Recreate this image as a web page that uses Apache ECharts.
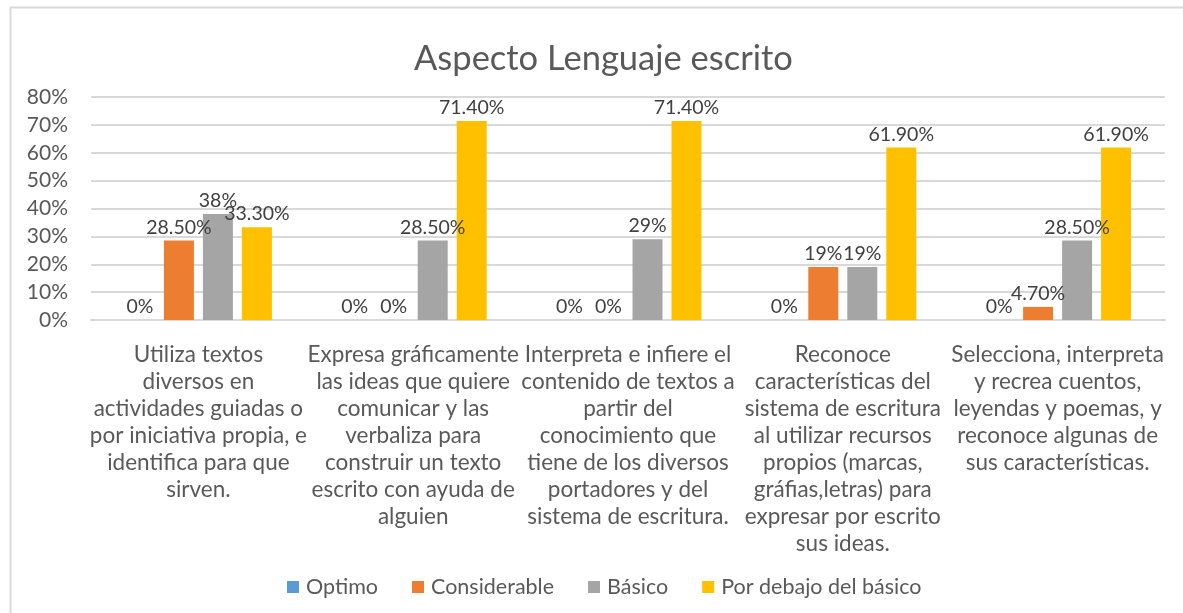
<!DOCTYPE html>
<html>
<head>
<meta charset="utf-8">
<script src="https://cdn.jsdelivr.net/npm/echarts@6/dist/echarts.min.js"></script>
<style>
  html, body { margin: 0; padding: 0; background: #fff; }
  #chart { width: 1183px; height: 613px; }
</style>
</head>
<body>
<div id="chart"></div>
<script>
const categories = [
  'Utiliza textos\ndiversos en\nactividades guiadas o\npor iniciativa propia, e\nidentifica para que\nsirven.',
  'Expresa gráficamente\nlas ideas que quiere\ncomunicar y las\nverbaliza para\nconstruir un texto\nescrito con ayuda de\nalguien',
  'Interpreta e infiere el\ncontenido de textos a\npartir del\nconocimiento que\ntiene de los diversos\nportadores y del\nsistema de escritura.',
  'Reconoce\ncaracterísticas del\nsistema de escritura\nal utilizar recursos\npropios (marcas,\ngráfias,letras) para\nexpresar por escrito\nsus ideas.',
  'Selecciona, interpreta\ny recrea cuentos,\nleyendas y poemas, y\nreconoce algunas de\nsus características.'
]
const optimo = [0, 0, 0, 0, 0]
const considerable = [28.5, 0, 0, 19, 4.7]
const basico = [38, 28.5, 29, 19, 28.5]
const porDebajo = [33.3, 71.4, 71.4, 61.9, 61.9]
const seriesNames = ['Optimo', 'Considerable', 'Básico', 'Por debajo del básico']
const colors = ['#5B9BD5', '#ED7D31', '#A5A5A5', '#FFC000']

const font = 'Lato'
const fmt = v => (Number.isInteger(v) ? v : v.toFixed(2)) + '%'

const chart = echarts.init(document.getElementById('chart'))
const makeSeries = (name, data, i) => ({
  name,
  type: 'bar',
  data,
  barWidth: 30,
  barGap: '30%',
  itemStyle: { color: colors[i] },
  label: {
    show: true,
    position: 'top',
    distance: 3,
    fontFamily: font,
    fontSize: 19.5,
    color: '#404040',
    formatter: p => fmt(p.value)
  },
  animation: false
})

chart.setOption({
  textStyle: { fontFamily: font },
  title: {
    text: 'Aspecto Lenguaje escrito',
    left: 409,
    top: 36,
    textStyle: { fontFamily: font, fontSize: 34.5, fontWeight: 'normal', color: '#595959' }
  },
  graphic: [{
    type: 'rect',
    shape: { x: 10.5, y: 7.5, width: 1250, height: 700 },
    style: { fill: 'none', stroke: '#d9d9d9', lineWidth: 2 },
    silent: true
  }],
  legend: {
    left: 282,
    top: 571,
    itemWidth: 12,
    itemHeight: 12,
    itemGap: 34,
    icon: 'rect',
    textStyle: { fontFamily: font, fontSize: 21.5, color: '#595959', padding: [12, 0, 0, 2] },
    data: seriesNames
  },
  grid: {
    left: 91,
    right: 18,
    top: 97,
    bottom: 293,
    containLabel: false
  },
  xAxis: {
    type: 'category',
    data: categories,
    axisLine: { lineStyle: { color: '#d9d9d9', width: 2 } },
    axisTick: { show: false },
    axisLabel: {
      interval: 0,
      margin: 21,
      fontFamily: font,
      fontSize: 22.5,
      lineHeight: 27,
      color: '#595959',
      align: 'center'
    }
  },
  yAxis: {
    type: 'value',
    min: 0,
    max: 80,
    interval: 10,
    axisLine: { show: false },
    axisTick: { show: false },
    axisLabel: {
      margin: 23,
      fontFamily: font,
      fontSize: 21,
      color: '#595959',
      padding: [9, 0, 0, 0],
      formatter: '{value}%'
    },
    splitLine: { lineStyle: { color: '#d9d9d9', width: 2 } }
  },
  series: [
    makeSeries(seriesNames[0], optimo, 0),
    makeSeries(seriesNames[1], considerable, 1),
    makeSeries(seriesNames[2], basico, 2),
    makeSeries(seriesNames[3], porDebajo, 3)
  ]
})
</script>
</body>
</html>
